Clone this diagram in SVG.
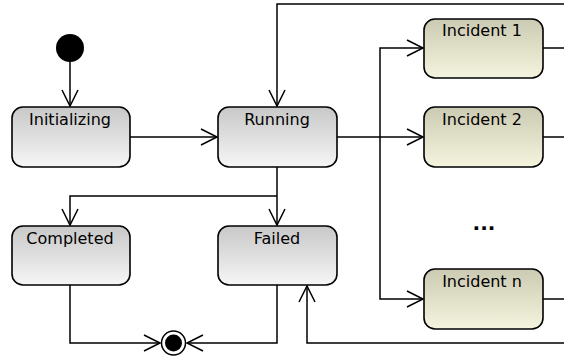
<svg xmlns="http://www.w3.org/2000/svg" width="564" height="360" viewBox="0 0 564 360">
<defs>
<linearGradient id="gGray" x1="0" y1="0" x2="0" y2="1">
<stop offset="0" stop-color="#c8c8c8"/>
<stop offset="1" stop-color="#f6f6f6"/>
</linearGradient>
<linearGradient id="gOlive" x1="0" y1="0" x2="0" y2="1">
<stop offset="0" stop-color="#cbcab2"/>
<stop offset="1" stop-color="#f5f4de"/>
</linearGradient>
<marker id="arr" viewBox="0 0 20 20" refX="18" refY="10" markerWidth="20" markerHeight="20" markerUnits="userSpaceOnUse" orient="auto">
<path d="M2,2 L18,10 L2,18" fill="none" stroke="#000" stroke-width="1.5"/>
</marker>
</defs>
<style>
.st{stroke:#000;stroke-width:1.6}
.gray{fill:url(#gGray)}
.olive{fill:url(#gOlive)}
.lbl{font-family:"DejaVu Sans",sans-serif;font-size:16px;fill:#000;text-anchor:middle}
.ln{fill:none;stroke:#000;stroke-width:1.5}
</style>
<rect width="564" height="360" fill="#fff"/>
<g id="connectors">
<path class="ln" d="M70,62 V106" marker-end="url(#arr)"/>
<path class="ln" d="M130,137 H217" marker-end="url(#arr)"/>
<path class="ln" d="M564,4 H277 V106" marker-end="url(#arr)"/>
<path class="ln" d="M337,137 H423" marker-end="url(#arr)"/>
<path class="ln" d="M380,137 V48 H423" marker-end="url(#arr)"/>
<path class="ln" d="M380,137 V299 H423" marker-end="url(#arr)"/>
<path class="ln" d="M543,48 H564"/>
<path class="ln" d="M543,137 H564"/>
<path class="ln" d="M543,299 H564"/>
<path class="ln" d="M277,167 V225" marker-end="url(#arr)"/>
<path class="ln" d="M277,196 H70 V225" marker-end="url(#arr)"/>
<path class="ln" d="M70,285 V343 H160" marker-end="url(#arr)"/>
<path class="ln" d="M277,285 V343 H187" marker-end="url(#arr)"/>
<path class="ln" d="M564,343 H307 V286" marker-end="url(#arr)"/>
</g>
<g id="initial"><circle cx="70" cy="48" r="14" fill="#000"/></g>
<g id="initializing"><rect class="st gray" x="12" y="107" width="118" height="60" rx="11"/><text class="lbl" x="70" y="125">Initializing</text></g>
<g id="running"><rect class="st gray" x="218" y="107" width="119" height="60" rx="11"/><text class="lbl" x="277" y="125">Running</text></g>
<g id="completed"><rect class="st gray" x="12" y="226" width="118" height="59" rx="11"/><text class="lbl" x="70" y="244">Completed</text></g>
<g id="failed"><rect class="st gray" x="218" y="226" width="119" height="59" rx="11"/><text class="lbl" x="277" y="244">Failed</text></g>
<g id="incident1"><rect class="st olive" x="424" y="19" width="119" height="59" rx="11"/><text class="lbl" x="482" y="36">Incident 1</text></g>
<g id="incident2"><rect class="st olive" x="424" y="107" width="119" height="60" rx="11"/><text class="lbl" x="482" y="125">Incident 2</text></g>
<g id="incidentn"><rect class="st olive" x="424" y="269" width="119" height="60" rx="11"/><text class="lbl" x="482" y="287">Incident n</text></g>
<g id="ellipsis"><text class="lbl" x="484" y="230" style="font-weight:bold;font-size:20px">...</text></g>
<g id="final"><circle cx="173.5" cy="343" r="12" fill="#fff" stroke="#000" stroke-width="1.5"/><circle cx="173.5" cy="343" r="8.5" fill="#000"/></g>
</svg>
